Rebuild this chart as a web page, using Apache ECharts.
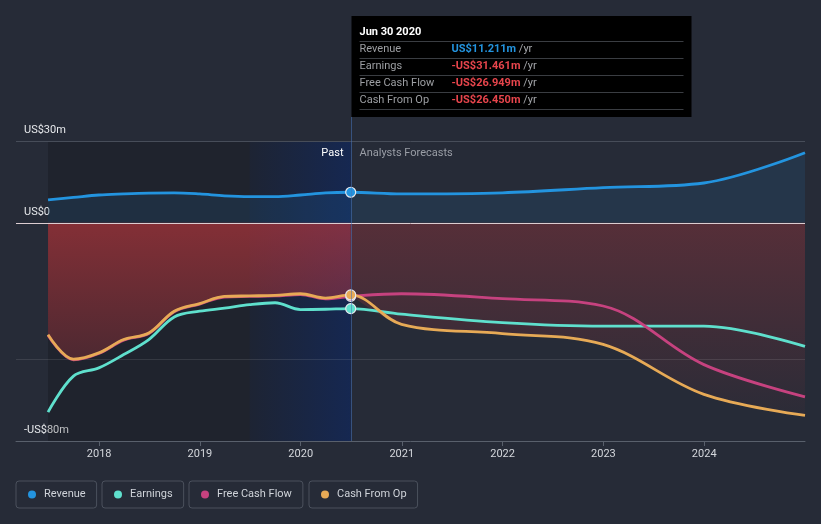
<!DOCTYPE html>
<html><head><meta charset="utf-8">
<script src="https://cdn.jsdelivr.net/npm/echarts@6/dist/echarts.min.js"></script>
<style>html,body{margin:0;padding:0;background:#262b37;}#c{width:821px;height:524px;}</style>
</head><body><div id="c"></div>
<script>
// ---- data (US$ millions) ----
const pastDates = ['2017-06-30','2017-09-30','2017-12-31','2018-03-31','2018-06-30','2018-09-30','2018-12-31','2019-03-31','2019-06-30','2019-09-30','2019-12-31','2020-03-31','2020-06-30'];
const forecastDates = ['2020-12-31','2021-12-31','2022-12-31','2023-12-31','2024-12-31'];
const revenuePast = [8.4, 9.3, 10.2, 10.6, 10.9, 11.0, 10.6, 9.9, 9.6, 9.6, 10.2, 11.0, 11.211];
const revenueForecast = [10.6, 11.0, 12.9, 14.6, 25.7];
const earningsPast = [-69.4, -56.2, -53.2, -48.3, -42.8, -34.5, -32.4, -31.3, -30.0, -29.3, -31.8, -31.7, -31.461];
const earningsForecast = [-33.5, -36.6, -37.9, -37.9, -45.3];
const fcfPast = [-41.2, -50.2, -47.9, -43.0, -40.6, -32.6, -29.8, -27.2, -27.0, -26.8, -26.3, -27.9, -26.949];
const fcfForecast = [-26.0, -27.8, -30.5, -52.0, -63.8];
const cfoPast = [-41.0, -50.0, -47.7, -42.8, -40.4, -32.4, -29.6, -27.0, -26.8, -26.6, -26.0, -27.6, -26.45];
const cfoForecast = [-37.2, -40.6, -44.6, -62.9, -70.6];
const yTickLabels = {30: 'US$30m', 0: 'US$0', '-80': '-US$80m'};
const tooltipTitle = 'Jun 30 2020';
const tooltipRows = [
  ['Revenue', 'US$11.211m', '#2394df'],
  ['Earnings', '-US$31.461m', '#e8454c'],
  ['Free Cash Flow', '-US$26.949m', '#e8454c'],
  ['Cash From Op', '-US$26.450m', '#e8454c']
];

const allDates = pastDates.concat(forecastDates);
const markIdx = pastDates.length - 1;
const FONT = 'Roboto, "Noto Sans", sans-serif';
const C = {rev:'#2394df', earn:'#5fe0cd', fcf:'#c6427f', cfo:'#e7aa56'};

function lineData(vals, color) {
  return allDates.map((d, i) => i === markIdx
    ? {value: [d, vals[i]], symbol: 'circle', symbolSize: 10,
       itemStyle: {color: color, borderColor: '#e6e9ee', borderWidth: 1.2}}
    : [d, vals[i]]);
}
const SM = 0.35;
function lineSeries(name, vals, color, z) {
  return {name: name, type: 'line', data: lineData(vals, color), smooth: SM,
    symbol: 'none', showSymbol: true, showAllSymbol: true, z: z,
    itemStyle: {color: color}, lineStyle: {color: color, width: 2.8},
    emphasis: {disabled: true}, silent: true};
}
const revenueAll = revenuePast.concat(revenueForecast);
const earningsAll = earningsPast.concat(earningsForecast);
const fcfAll = fcfPast.concat(fcfForecast);
const cfoAll = cfoPast.concat(cfoForecast);

const revSeries = lineSeries('Revenue', revenueAll, C.rev, 5);
revSeries.areaStyle = {color: 'rgba(35,148,223,0.17)'};

const series = [
  {type: 'line', name: 'shade', data: [], silent: true, z: 0,
   markArea: {silent: true, data: [
     [{xAxis: pastDates[0], itemStyle: {color: 'rgba(0,0,0,0.18)'}}, {xAxis: pastDates[markIdx]}],
     [{xAxis: '2019-06-30', itemStyle: {color: {type: 'linear', x: 0, y: 0, x2: 1, y2: 0,
        colorStops: [{offset: 0, color: 'rgba(10,45,125,0.08)'}, {offset: 1, color: 'rgba(10,45,125,0.45)'}]}}},
      {xAxis: pastDates[markIdx]}]
   ]}},
  revSeries,
  {type: 'line', name: 'cfoPastFill', silent: true, z: 1, smooth: SM, symbol: 'none',
   data: pastDates.map((d, i) => [d, cfoPast[i]]), lineStyle: {width: 0},
   areaStyle: {color: {type: 'linear', x: 0, y: 0, x2: 0, y2: 1,
     colorStops: [{offset: 0, color: 'rgba(195,55,60,0.88)'}, {offset: 1, color: 'rgba(195,55,60,0.40)'}]}}},
  {type: 'line', name: 'cfoFcstFill', silent: true, z: 1, smooth: SM, symbol: 'none',
   data: [[pastDates[markIdx], cfoPast[markIdx]]].concat(forecastDates.map((d, i) => [d, cfoForecast[i]])),
   lineStyle: {width: 0},
   areaStyle: {color: {type: 'linear', x: 0, y: 0, x2: 0, y2: 1,
     colorStops: [{offset: 0, color: 'rgba(190,55,60,0.45)'}, {offset: 1, color: 'rgba(190,55,60,0.05)'}]}}},
  lineSeries('Earnings', earningsAll, C.earn, 6),
  lineSeries('Free Cash Flow', fcfAll, C.fcf, 7),
  lineSeries('Cash From Op', cfoAll, C.cfo, 8)
];
series[series.length - 1].markLine = {silent: true, symbol: 'none', label: {show: false}, animation: false,
  data: [
    {yAxis: 30, lineStyle: {color: '#474d59', width: 1, type: 'solid'}},
    {yAxis: -50, lineStyle: {color: 'rgba(255,255,255,0.10)', width: 1, type: 'solid'}},
    {yAxis: 0, lineStyle: {color: '#dccdd1', width: 1, type: 'solid'}}
  ]};

function legendFor(name, left) {
  return {data: [name], left: left, top: 481, icon: 'circle', itemWidth: 8, itemHeight: 8,
    padding: [8, 11, 8, 12], borderColor: '#4b515d', borderWidth: 1, borderRadius: 3,
    textStyle: {color: '#cfd3d9', fontSize: 11, fontFamily: FONT, padding: [0, 0, 0, 3]}};
}

const chart = echarts.init(document.getElementById('c'));
chart.setOption({
  animation: false,
  backgroundColor: '#262b37',
  textStyle: {fontFamily: FONT},
  grid: {left: 16, right: 16, top: 141, bottom: 83, containLabel: false},
  legend: [legendFor('Revenue', 16), legendFor('Earnings', 102), legendFor('Free Cash Flow', 189), legendFor('Cash From Op', 309)],
  xAxis: {type: 'time', min: '2017-03-06', max: '2024-12-31',
    minInterval: 365 * 86400000, maxInterval: 366 * 86400000,
    axisLine: {onZero: false, lineStyle: {color: '#59606c', width: 1}},
    axisTick: {show: true, length: 5, lineStyle: {color: '#59606c'}},
    splitLine: {show: false},
    axisLabel: {color: '#d4d7dc', fontSize: 11, fontFamily: FONT, margin: 8,
      showMinLabel: false, showMaxLabel: false, formatter: '{yyyy}', hideOverlap: false}},
  yAxis: {type: 'value', min: -80, max: 30, interval: 10,
    axisLine: {show: false}, axisTick: {show: false}, splitLine: {show: false},
    axisLabel: {inside: true, margin: 8, color: '#e6e8eb', fontSize: 11, fontFamily: FONT,
      verticalAlign: 'bottom', padding: [0, 0, 5, 0],
      formatter: v => yTickLabels[v] !== undefined ? yTickLabels[v] : ''}},
  series: series
});

const lx = Math.round(chart.convertToPixel({xAxisIndex: 0}, pastDates[markIdx])) + 0.5;
const yBottom = chart.convertToPixel({yAxisIndex: 0}, -80);
const yTop = chart.convertToPixel({yAxisIndex: 0}, 30);
const tipTop = 16, tipH = 101, tipW = 340;
const g = [];
g.push({type: 'line', silent: true, z: 50, shape: {x1: lx, y1: tipTop + tipH, x2: lx, y2: yBottom},
  style: {stroke: 'rgba(70,115,185,0.55)', lineWidth: 1}});
g.push({type: 'rect', silent: true, z: 60, shape: {x: lx, y: tipTop, width: tipW, height: tipH},
  style: {fill: '#000000'}});
g.push({type: 'text', silent: true, z: 61, x: lx + 8, y: tipTop + 16,
  style: {text: tooltipTitle, fill: '#ffffff', font: 'bold 11px ' + FONT, verticalAlign: 'middle'}});
for (let i = 0; i < 5; i++) {
  const yy = Math.round(tipTop + 24.7 + i * 17) + 0.5;
  g.push({type: 'line', silent: true, z: 61, shape: {x1: lx + 8, y1: yy, x2: lx + tipW - 8, y2: yy},
    style: {stroke: '#3a3d42', lineWidth: 1}});
}
tooltipRows.forEach((r, i) => {
  const yc = tipTop + 33.3 + i * 17;
  g.push({type: 'text', silent: true, z: 61, x: lx + 8, y: yc,
    style: {text: r[0], fill: '#9d9fa3', font: '11px ' + FONT, verticalAlign: 'middle'}});
  g.push({type: 'text', silent: true, z: 61, x: lx + 100, y: yc,
    style: {text: '{v|' + r[1] + '} {u|/yr}', verticalAlign: 'middle', font: '11px ' + FONT,
      rich: {v: {fill: r[2], fontWeight: 'bold', fontSize: 11, fontFamily: FONT},
             u: {fill: '#a5a7ab', fontSize: 11, fontFamily: FONT}}}});
});
g.push({type: 'text', silent: true, z: 40, x: lx - 8, y: yTop + 12,
  style: {text: 'Past', fill: '#ffffff', font: '11px ' + FONT, align: 'right', verticalAlign: 'middle'}});
g.push({type: 'text', silent: true, z: 40, x: lx + 8, y: yTop + 12,
  style: {text: 'Analysts Forecasts', fill: '#9a9ea6', font: '11px ' + FONT, align: 'left', verticalAlign: 'middle'}});
chart.setOption({graphic: g});
</script></body></html>
